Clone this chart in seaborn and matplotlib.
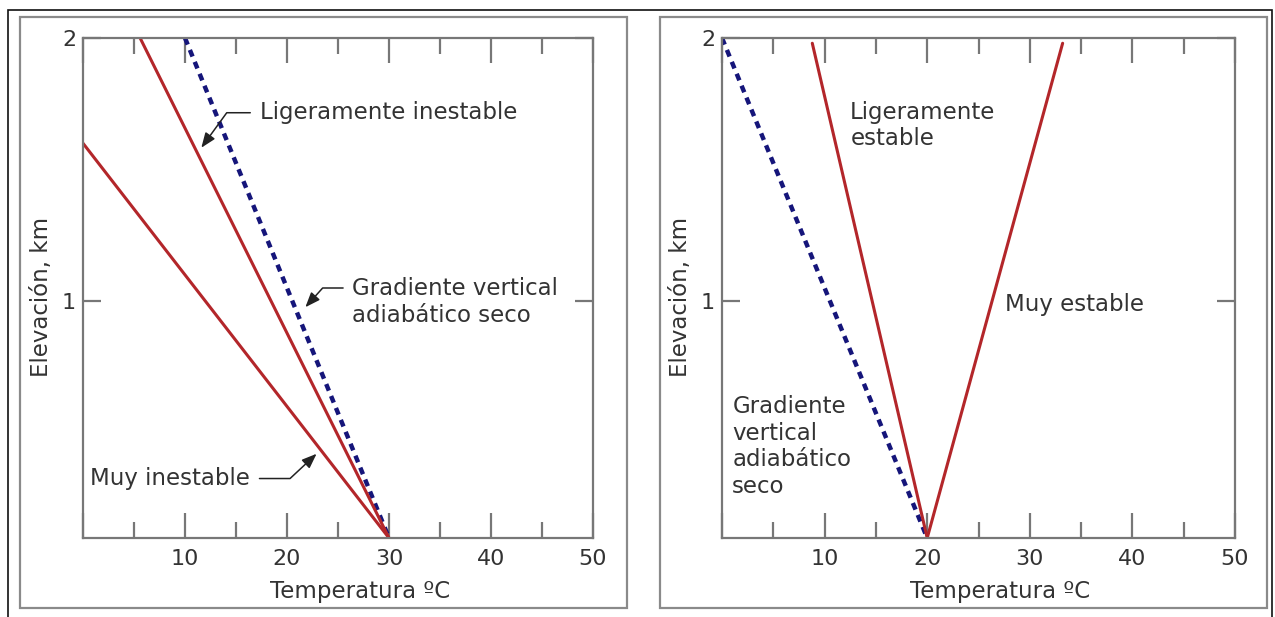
import matplotlib
matplotlib.use("Agg")
import matplotlib.pyplot as plt
import seaborn as sns
from matplotlib.patches import Rectangle

# estabilidad atmosferica - dos paneles
sns.set_style("white")
plt.rcParams['font.family'] = ['DejaVu Sans']

# --- datos ---
# panel izquierdo (inestable)
seco_izq_t = [10, 30]
seco_izq_z = [2.0, 0.1]
lig_inest_t = [5.6, 30]
lig_inest_z = [2.0, 0.1]
muy_inest_t = [0, 30]
muy_inest_z = [1.6, 0.1]

# panel derecho (estable)
seco_der_t = [0, 20]
seco_der_z = [2.0, 0.1]
lig_est_t = [8.8, 20]
lig_est_z = [1.98, 0.1]
muy_est_t = [33.2, 20]
muy_est_z = [1.98, 0.1]

xticks_major = [0, 10, 20, 30, 40, 50]
xticklabels = ["", "10", "20", "30", "40", "50"]
xticks_minor = [5, 15, 25, 35, 45]
yticks = [1, 2]

ROJO = "#b3262a"
AZUL = "#15157a"
GRIS = "#777777"
TXT = "#333333"
FS = 16.5
FS_TICK = 16

fig = plt.figure(figsize=(12.75, 6.17), dpi=100)
W, H = 1275, 617

def px_ax(x0, y0, x1, y1):
    return fig.add_axes([x0 / W, 1 - y1 / H, (x1 - x0) / W, (y1 - y0) / H])

ax1 = px_ax(83, 38, 593, 538)
ax2 = px_ax(722, 38, 1235, 538)

def estilo(ax):
    ax.set_xlim(0, 50)
    ax.set_ylim(0.1, 2)
    ax.set_xticks(xticks_major)
    ax.set_xticklabels(xticklabels)
    ax.set_xticks(xticks_minor, minor=True)
    ax.set_yticks(yticks)
    ax.set_yticklabels([str(v) for v in yticks])
    for s in ax.spines.values():
        s.set_color(GRIS)
        s.set_linewidth(1.6)
        s.set_visible(True)
    ax.tick_params(which='both', direction='in', top=True, right=True, bottom=True, left=True,
                   color=GRIS, width=1.6, labelcolor=TXT, labelsize=FS_TICK)
    ax.tick_params(axis='x', which='major', length=18, pad=8)
    ax.tick_params(axis='x', which='minor', length=11.5)
    ax.tick_params(axis='y', which='major', length=13, pad=5)
    ax.set_xlabel("Temperatura ºC", fontsize=FS, color=TXT)
    ax.set_ylabel("Elevación, km", fontsize=FS, color=TXT)
    ax.xaxis.set_label_coords(0.543, -0.084)
    ax.yaxis.set_label_coords(-0.058, 0.482)
    ax.patch.set_alpha(0)

punteado = (0, (1.6, 1.3))

# panel izquierdo
sns.lineplot(x=seco_izq_t, y=seco_izq_z, ax=ax1, color=AZUL, lw=3.2, linestyle=punteado, sort=False)
sns.lineplot(x=lig_inest_t, y=lig_inest_z, ax=ax1, color=ROJO, lw=2.2, sort=False)
sns.lineplot(x=muy_inest_t, y=muy_inest_z, ax=ax1, color=ROJO, lw=2.2, sort=False)
estilo(ax1)

flecha = dict(arrowstyle="-|>,head_length=0.9,head_width=0.35", color="#222222",
              lw=1.1, shrinkA=0, shrinkB=0, mutation_scale=10)

ax1.text(17.4, 1.716, "Ligeramente inestable", fontsize=FS, color=TXT, va='center', ha='left')
ax1.annotate("", xy=(11.6, 1.583), xytext=(16.4, 1.716),
             arrowprops=dict(flecha, connectionstyle="angle,angleA=0,angleB=54,rad=0"))

ax1.text(26.4, 0.996, "Gradiente vertical\nadiabático seco", fontsize=FS, color=TXT,
         va='center', ha='left', linespacing=1.2)
ax1.annotate("", xy=(21.8, 0.977), xytext=(25.5, 1.05),
             arrowprops=dict(flecha, connectionstyle="angle,angleA=0,angleB=48,rad=0"))

ax1.text(0.7, 0.326, "Muy inestable", fontsize=FS, color=TXT, va='center', ha='left')
ax1.annotate("", xy=(22.9, 0.42), xytext=(17.3, 0.326),
             arrowprops=dict(flecha, connectionstyle="angle,angleA=0,angleB=43,rad=0"))

# panel derecho
sns.lineplot(x=seco_der_t, y=seco_der_z, ax=ax2, color=AZUL, lw=3.2, linestyle=punteado, sort=False)
sns.lineplot(x=lig_est_t, y=lig_est_z, ax=ax2, color=ROJO, lw=2.2, sort=False)
sns.lineplot(x=muy_est_t, y=muy_est_z, ax=ax2, color=ROJO, lw=2.2, sort=False)
estilo(ax2)

ax2.text(12.5, 1.667, "Ligeramente\nestable", fontsize=FS, color=TXT, va='center', ha='left',
         linespacing=1.2)
ax2.text(27.6, 0.989, "Muy estable", fontsize=FS, color=TXT, va='center', ha='left')
ax2.text(1.0, 0.447, "Gradiente\nvertical\nadiabático\nseco", fontsize=FS, color=TXT,
         va='center', ha='left', linespacing=1.2)

# marcos
def marco(x0, y0, x1, y1, color, lw):
    fig.patches.append(Rectangle((x0 / W, 1 - y1 / H), (x1 - x0) / W, (y1 - y0) / H,
                                 transform=fig.transFigure, fill=False,
                                 edgecolor=color, lw=lw))

marco(8, 10, 1272, 640, "#111111", 1.2)
marco(20, 17, 627, 608, "#8a8a8a", 1.6)
marco(660, 17, 1267, 608, "#8a8a8a", 1.6)

fig.savefig("out.png", dpi=100)
